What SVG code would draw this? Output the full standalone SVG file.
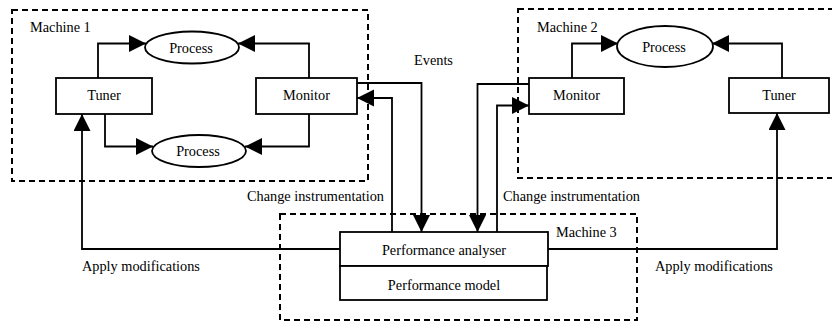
<svg xmlns="http://www.w3.org/2000/svg" width="832" height="323" viewBox="0 0 832 323" font-family="'Liberation Serif', 'DejaVu Serif', serif" font-size="14.3">
<style>
  .bg { fill: #ffffff; }
  .box { fill: #ffffff; stroke: #000; stroke-width: 1.8; }
  .machine { fill: none; stroke: #000; stroke-width: 2; stroke-dasharray: 6 4; }
  .conn { fill: none; stroke: #000; stroke-width: 1.8; }
  .t { font-family: 'Liberation Serif', 'DejaVu Serif', serif; font-size: 14.3px; fill: #000; }
  .c { text-anchor: middle; }
</style>
<defs>
  <marker id="arr" markerUnits="userSpaceOnUse" markerWidth="18" markerHeight="18" refX="17" refY="8.5" orient="auto">
    <path d="M0,0 L17,8.5 L0,17 Z" fill="#000"/>
  </marker>
</defs>
<rect class="bg" x="0" y="0" width="832" height="323"/>

<g id="machine1">
  <rect class="machine" x="12" y="10" width="356" height="171"/>
  <text class="t" x="30" y="32">Machine 1</text>
</g>
<g id="machine2">
  <rect class="machine" x="518" y="9" width="318" height="169"/>
  <text class="t" x="537" y="32">Machine 2</text>
</g>
<g id="machine3">
  <rect class="machine" x="280" y="214" width="357" height="106"/>
  <text class="t" x="556" y="237">Machine 3</text>
</g>

<g id="connectors">
  <path class="conn" d="M98,78 V43.5 H146" marker-end="url(#arr)"/>
  <path class="conn" d="M309,78 V43.5 H238" marker-end="url(#arr)"/>
  <path class="conn" d="M105,114 V146.5 H153" marker-end="url(#arr)"/>
  <path class="conn" d="M309,114 V146.5 H245" marker-end="url(#arr)"/>
  <path class="conn" d="M357,83 H421.5 V232" marker-end="url(#arr)"/>
  <path class="conn" d="M392,232 V98 H357" marker-end="url(#arr)"/>
  <path class="conn" d="M529,84 H477.5 V232" marker-end="url(#arr)"/>
  <path class="conn" d="M497,232 V105.5 H529" marker-end="url(#arr)"/>
  <path class="conn" d="M572,78 V43.5 H618" marker-end="url(#arr)"/>
  <path class="conn" d="M782,78 V43.5 H712" marker-end="url(#arr)"/>
  <path class="conn" d="M340,249 H82 V114" marker-end="url(#arr)"/>
  <path class="conn" d="M548,249 H777 V113" marker-end="url(#arr)"/>
  <text class="t" x="414" y="65">Events</text>
  <text class="t" x="247" y="201">Change instrumentation</text>
  <text class="t" x="503" y="201">Change instrumentation</text>
  <text class="t" x="82" y="271">Apply modifications</text>
  <text class="t" x="655" y="271">Apply modifications</text>
</g>

<g id="tuner1">
  <rect class="box" x="56" y="78" width="96" height="36"/>
  <text class="t c" x="104" y="100">Tuner</text>
</g>
<g id="monitor1">
  <rect class="box" x="256" y="78" width="101" height="36"/>
  <text class="t c" x="306.5" y="100">Monitor</text>
</g>
<g id="process1a">
  <ellipse class="box" cx="192" cy="47.5" rx="47" ry="16"/>
  <text class="t c" x="191" y="52.5">Process</text>
</g>
<g id="process1b">
  <ellipse class="box" cx="199" cy="151" rx="47" ry="16"/>
  <text class="t c" x="198" y="156">Process</text>
</g>
<g id="monitor2">
  <rect class="box" x="529" y="78" width="95" height="36"/>
  <text class="t c" x="576.5" y="100">Monitor</text>
</g>
<g id="tuner2">
  <rect class="box" x="729" y="78" width="100" height="35"/>
  <text class="t c" x="779" y="100">Tuner</text>
</g>
<g id="process2">
  <ellipse class="box" cx="665" cy="46.5" rx="48" ry="20.5"/>
  <text class="t c" x="664" y="52">Process</text>
</g>
<g id="perf_analyser">
  <rect class="box" x="340" y="232" width="208" height="34"/>
  <text class="t c" x="444" y="255">Performance analyser</text>
</g>
<g id="perf_model">
  <rect class="box" x="340" y="266" width="207" height="34"/>
  <text class="t c" x="444" y="290">Performance model</text>
</g>
</svg>
